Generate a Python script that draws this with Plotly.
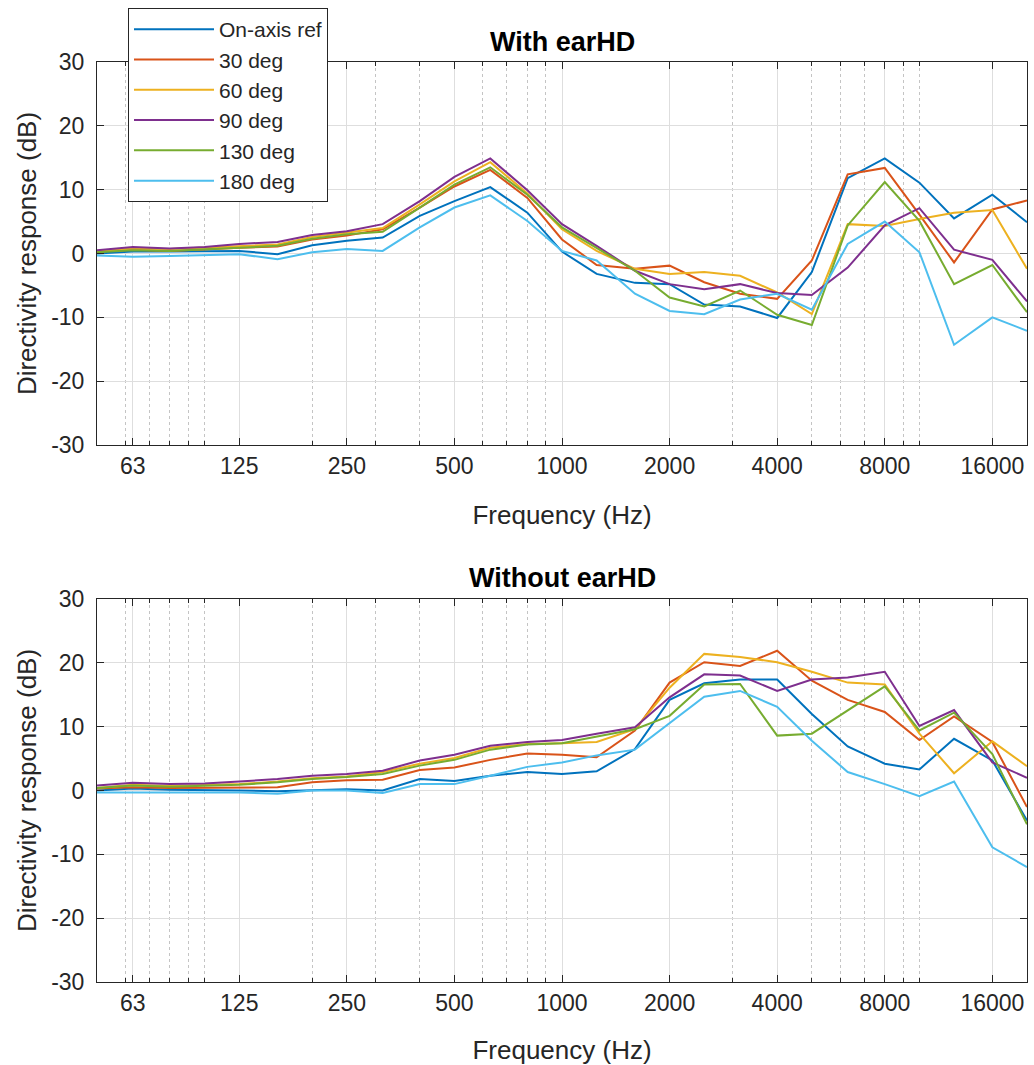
import plotly.graph_objects as go
import numpy as np

freqs = [50, 63, 80, 100, 125, 160, 200, 250, 315, 400, 500, 630, 800, 1000, 1250,
         1600, 2000, 2500, 3150, 4000, 5000, 6300, 8000, 10000, 12500, 16000, 20000]

series_names = ["On-axis ref", "30 deg", "60 deg", "90 deg", "130 deg", "180 deg"]
colors = ["#0072BD", "#D95319", "#EDB120", "#7E2F8E", "#77AC30", "#4DBEEE"]

# With earHD
onaxis_with = [0.0, 0.3, 0.3, 0.3, 0.4, -0.1, 1.3, 2.0, 2.5, 5.9, 8.2, 10.4, 6.4, 0.3, -3.2,
               -4.6, -4.8, -8.0, -8.3, -10.1, -2.9, 11.8, 14.9, 11.1, 5.5, 9.2, 4.9]
d30_with = [0.3, 0.6, 0.4, 0.7, 0.9, 1.1, 2.2, 2.8, 3.8, 7.2, 10.5, 13.1, 8.7, 2.2, -1.8,
            -2.4, -1.9, -4.5, -6.3, -7.1, -1.1, 12.4, 13.4, 6.1, -1.4, 6.9, 8.3]
d60_with = [0.3, 0.8, 0.7, 0.9, 1.1, 1.4, 2.6, 3.3, 4.0, 7.7, 11.3, 14.3, 9.4, 3.8, 0.4,
            -2.4, -3.2, -2.9, -3.5, -6.1, -9.5, 4.6, 4.3, 5.4, 6.4, 6.8, -2.4]
d90_with = [0.5, 1.0, 0.8, 1.0, 1.5, 1.8, 2.9, 3.5, 4.6, 8.2, 12.0, 14.9, 9.9, 4.6, 1.2,
            -2.7, -4.8, -5.6, -4.8, -6.2, -6.5, -2.2, 4.4, 7.1, 0.6, -1.0, -7.5]
d130_with = [0.2, 0.5, 0.4, 0.7, 0.9, 1.2, 2.3, 3.0, 3.4, 7.2, 10.8, 13.5, 9.2, 4.1, 0.9,
             -2.7, -6.9, -8.3, -5.8, -9.6, -11.2, 4.4, 11.2, 5.1, -4.8, -1.8, -9.2]
d180_with = [-0.3, -0.5, -0.4, -0.3, -0.1, -0.9, 0.2, 0.7, 0.4, 4.1, 7.2, 9.1, 5.1, 0.4, -1.1,
             -6.3, -9.0, -9.5, -7.2, -6.3, -8.8, 1.5, 5.0, 0.2, -14.3, -10.0, -12.1]

# Without earHD
onaxis_wo = [0.0, 0.3, 0.1, 0.1, 0.0, -0.1, 0.0, 0.2, 0.0, 1.8, 1.5, 2.3, 2.9, 2.6, 3.0,
             6.5, 14.2, 16.8, 17.4, 17.4, 12.0, 6.9, 4.2, 3.3, 8.1, 4.7, -4.7]
d30_wo = [0.3, 0.5, 0.4, 0.4, 0.4, 0.5, 1.3, 1.6, 1.7, 3.2, 3.6, 4.8, 5.8, 5.6, 5.2,
          9.4, 16.9, 20.1, 19.5, 21.9, 17.2, 14.2, 12.3, 7.9, 11.6, 7.6, -2.6]
d60_wo = [0.4, 0.9, 0.7, 0.8, 1.0, 1.4, 1.9, 2.2, 2.9, 4.2, 5.1, 6.7, 7.3, 7.4, 7.6,
          9.6, 16.1, 21.4, 20.9, 20.1, 18.6, 16.9, 16.6, 8.9, 2.7, 7.7, 3.8]
d90_wo = [0.8, 1.2, 1.0, 1.1, 1.4, 1.8, 2.3, 2.6, 3.1, 4.7, 5.6, 7.0, 7.6, 7.9, 8.9,
          9.9, 14.6, 18.2, 18.0, 15.6, 17.4, 17.7, 18.6, 10.1, 12.6, 4.4, 2.0]
d130_wo = [0.4, 0.8, 0.6, 0.7, 0.9, 1.3, 1.8, 2.1, 2.6, 3.9, 4.8, 6.4, 7.2, 7.4, 8.4,
           9.6, 11.7, 16.6, 16.7, 8.6, 8.9, 12.5, 16.3, 9.4, 12.2, 5.7, -5.3]
d180_wo = [-0.3, -0.3, -0.3, -0.3, -0.3, -0.5, 0.0, 0.0, -0.4, 1.0, 1.0, 2.3, 3.7, 4.4, 5.5,
           6.4, 10.5, 14.7, 15.6, 13.1, 7.8, 2.9, 1.0, -0.9, 1.4, -8.9, -12.0]

with_series = [onaxis_with, d30_with, d60_with, d90_with, d130_with, d180_with]
without_series = [onaxis_wo, d30_wo, d60_wo, d90_wo, d130_wo, d180_wo]

tick_vals = [63, 125, 250, 500, 1000, 2000, 4000, 8000, 16000]
tick_text = ["63", "125", "250", "500", "1000", "2000", "4000", "8000", "16000"]
minor_vals = [60, 70, 80, 90, 100, 200, 300, 400, 500, 600, 700, 800, 900, 1000,
              2000, 3000, 4000, 5000, 6000, 7000, 8000, 9000, 10000, 20000]
y_ticks = [-30, -20, -10, 0, 10, 20, 30]
y_text = ["-30", "-20", "-10", "0", "10", "20", "30"]

FONT = "Liberation Sans, Arial, sans-serif"
TXT = "#262626"

fig = go.Figure()
for name, col, ys in zip(series_names, colors, with_series):
    fig.add_trace(go.Scatter(x=freqs, y=ys, mode="lines", name=name,
                             line=dict(color=col, width=2), xaxis="x", yaxis="y",
                             showlegend=True))
for name, col, ys in zip(series_names, colors, without_series):
    fig.add_trace(go.Scatter(x=freqs, y=ys, mode="lines", name=name,
                             line=dict(color=col, width=2), xaxis="x2", yaxis="y2",
                             showlegend=False))

W, H = 1034, 1065
L, R, T, B = 97, 1027, 62, 982
PW, PH = R - L, B - T
yd_top = [(B - 445) / PH, 1]
yd_bot = [0, (B - 599) / PH]

def xaxis_cfg(anchor):
    return dict(
        type="log", range=[np.log10(50), np.log10(20000)], domain=[0, 1], anchor=anchor,
        tickmode="array", tickvals=tick_vals, ticktext=tick_text,
        ticks="inside", ticklen=7, tickcolor=TXT, tickfont=dict(family=FONT, size=23, color=TXT),
        showline=True, linecolor=TXT, linewidth=1, mirror="allticks", automargin=False,
        showgrid=True, gridcolor="#dedede", gridwidth=1, zeroline=False,
        minor=dict(tickmode="array", tickvals=minor_vals, showgrid=True,
                   gridcolor="#c4c4c4", griddash="dot", gridwidth=1,
                   ticks="inside", ticklen=4, tickcolor=TXT),
        title=dict(text="Frequency (Hz)", font=dict(family=FONT, size=26, color=TXT), standoff=28),
    )

def yaxis_cfg(anchor, domain):
    return dict(
        range=[-30, 30], domain=domain, anchor=anchor,
        tickmode="array", tickvals=y_ticks, ticktext=y_text,
        ticks="inside", ticklen=7, tickcolor=TXT, tickfont=dict(family=FONT, size=23, color=TXT),
        ticklabelstandoff=7,
        showline=True, linecolor=TXT, linewidth=1, mirror="allticks", automargin=False,
        showgrid=True, gridcolor="#dedede", gridwidth=1, zeroline=False,
        title=dict(text="Directivity response (dB)", font=dict(family=FONT, size=26, color=TXT), standoff=7),
    )

fig.update_layout(
    width=W, height=H,
    margin=dict(l=L, r=W - R, t=T, b=H - B, autoexpand=False),
    paper_bgcolor="white", plot_bgcolor="white",
    font=dict(family=FONT, color=TXT),
    xaxis=xaxis_cfg("y"), yaxis=yaxis_cfg("x", yd_top),
    xaxis2=xaxis_cfg("y2"), yaxis2=yaxis_cfg("x2", yd_bot),
    legend=dict(x=(128 - L) / PW, y=(B - 8) / PH, xanchor="left", yanchor="top",
                bgcolor="white", bordercolor=TXT, borderwidth=1,
                font=dict(family=FONT, size=21, color=TXT), itemwidth=80,
                tracegroupgap=0),
    annotations=[
        dict(text="<b>With earHD</b>", x=0.5, y=(B - 42) / PH, xref="paper", yref="paper",
             showarrow=False, xanchor="center", yanchor="middle",
             font=dict(family=FONT, size=27, color="black")),
        dict(text="<b>Without earHD</b>", x=0.5, y=(B - 578) / PH, xref="paper", yref="paper",
             showarrow=False, xanchor="center", yanchor="middle",
             font=dict(family=FONT, size=27, color="black")),
    ],
)

fig.write_html("out.html", config={"displayModeBar": False},
               post_script="document.body.style.margin='0';")
